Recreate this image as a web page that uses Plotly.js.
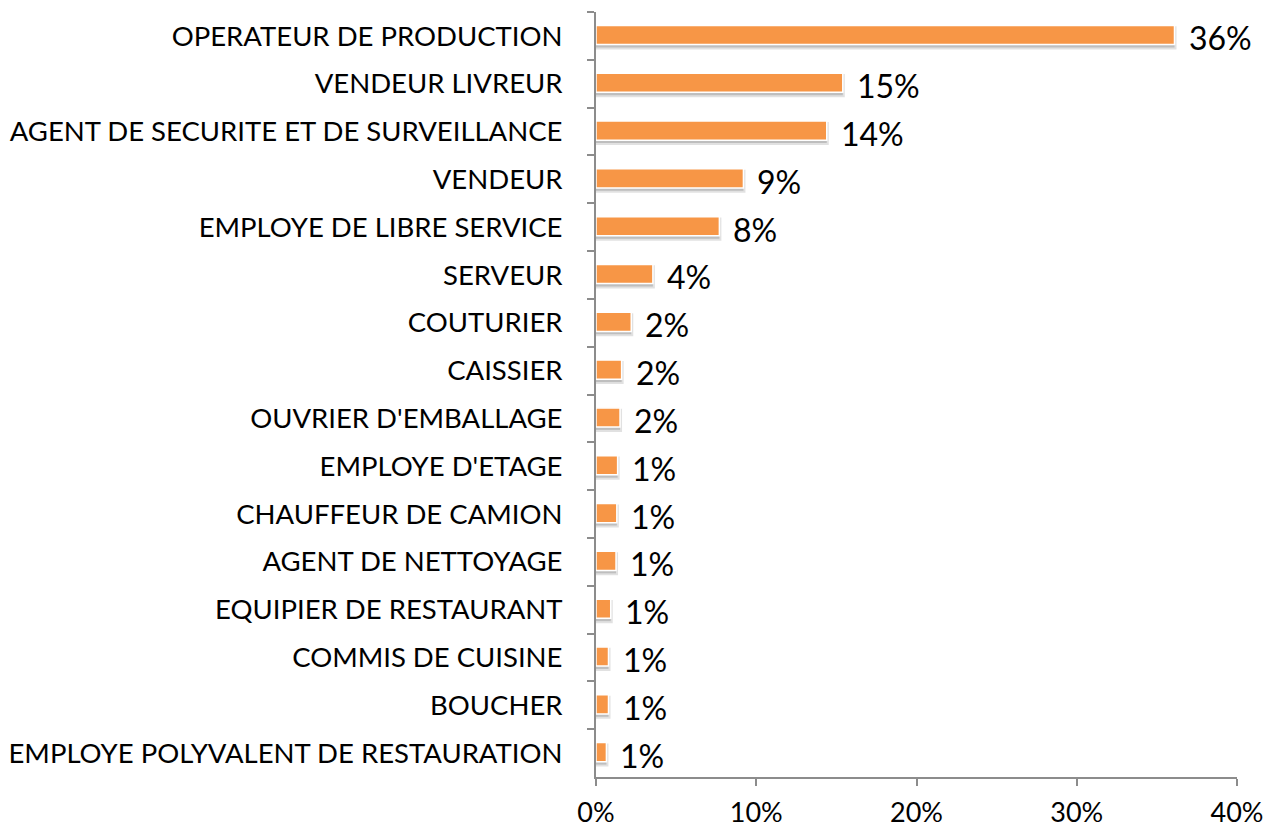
<!DOCTYPE html>
<html>
<head>
<meta charset="utf-8">
<script src="https://cdn.plot.ly/plotly-3.0.1.min.js"></script>
<style>html,body{margin:0;padding:0;background:#fff;}#chart{width:1269px;height:830px;}</style>
</head>
<body>
<div id="chart"></div>
<script>
const categories = [
  "OPERATEUR DE PRODUCTION",
  "VENDEUR LIVREUR",
  "AGENT DE SECURITE ET DE SURVEILLANCE",
  "VENDEUR",
  "EMPLOYE DE LIBRE SERVICE",
  "SERVEUR",
  "COUTURIER",
  "CAISSIER",
  "OUVRIER D'EMBALLAGE",
  "EMPLOYE D'ETAGE",
  "CHAUFFEUR DE CAMION",
  "AGENT DE NETTOYAGE",
  "EQUIPIER DE RESTAURANT",
  "COMMIS DE CUISINE",
  "BOUCHER",
  "EMPLOYE POLYVALENT DE RESTAURATION"
];
const values = [36.1, 15.4, 14.4, 9.2, 7.7, 3.55, 2.2, 1.6, 1.5, 1.35, 1.3, 1.25, 0.92, 0.78, 0.78, 0.65];
const valueLabels = ["36%","15%","14%","9%","8%","4%","2%","2%","2%","1%","1%","1%","1%","1%","1%","1%"];
const xTickVals = [0, 10, 20, 30, 40];
const xTickText = ["0%","10%","20%","30%","40%"];

const FONT = "Lato, 'Open Sans', sans-serif";

const shadow = {
  type: "bar", orientation: "h",
  x: values, y: categories,
  width: 0.4, offset: -0.16,
  marker: {color: "rgba(140,140,140,0.5)", line: {color: "rgba(180,180,180,0.4)", width: 4}},
  hoverinfo: "skip", showlegend: false
};
const bars = {
  type: "bar", orientation: "h",
  x: values, y: categories,
  width: 0.4, offset: -0.22,
  marker: {color: "#F79646", line: {color: "#ffffff", width: 1.5}},
  showlegend: false
};

const annotations = values.map((v, i) => ({
  x: v, y: categories[i], xref: "x", yref: "y",
  text: valueLabels[i], showarrow: false,
  xanchor: "left", yanchor: "middle", xshift: 12, yshift: -2,
  font: {family: FONT, size: 32, color: "#000"}
}));

const layout = {
  width: 1269, height: 830,
  margin: {l: 596, r: 32, t: 12, b: 53},
  paper_bgcolor: "#fff", plot_bgcolor: "#fff",
  barmode: "overlay",
  showlegend: false,
  xaxis: {
    range: [0, 40], tickvals: xTickVals, ticktext: xTickText,
    showgrid: false, zeroline: false,
    showline: true, linecolor: "#8c8c8c", linewidth: 2,
    ticks: "outside", ticklen: 7, tickcolor: "#8c8c8c", tickwidth: 2,
    tickfont: {family: FONT, size: 27, color: "#000"},
    ticklabelstandoff: 4,
    fixedrange: true
  },
  yaxis: {
    type: "category", autorange: "reversed",
    categoryorder: "array", categoryarray: categories,
    showgrid: false, zeroline: false,
    showline: true, linecolor: "#8c8c8c", linewidth: 2,
    ticks: "outside", ticklen: 7, tickcolor: "#8c8c8c", tickwidth: 2,
    tickson: "boundaries",
    tickfont: {family: FONT, size: 27.5, color: "#000"},
    ticklabelstandoff: 26,
    fixedrange: true
  },
  annotations: annotations
};

Plotly.newPlot("chart", [shadow, bars], layout, {displayModeBar: false, staticPlot: true});
</script>
</body>
</html>
